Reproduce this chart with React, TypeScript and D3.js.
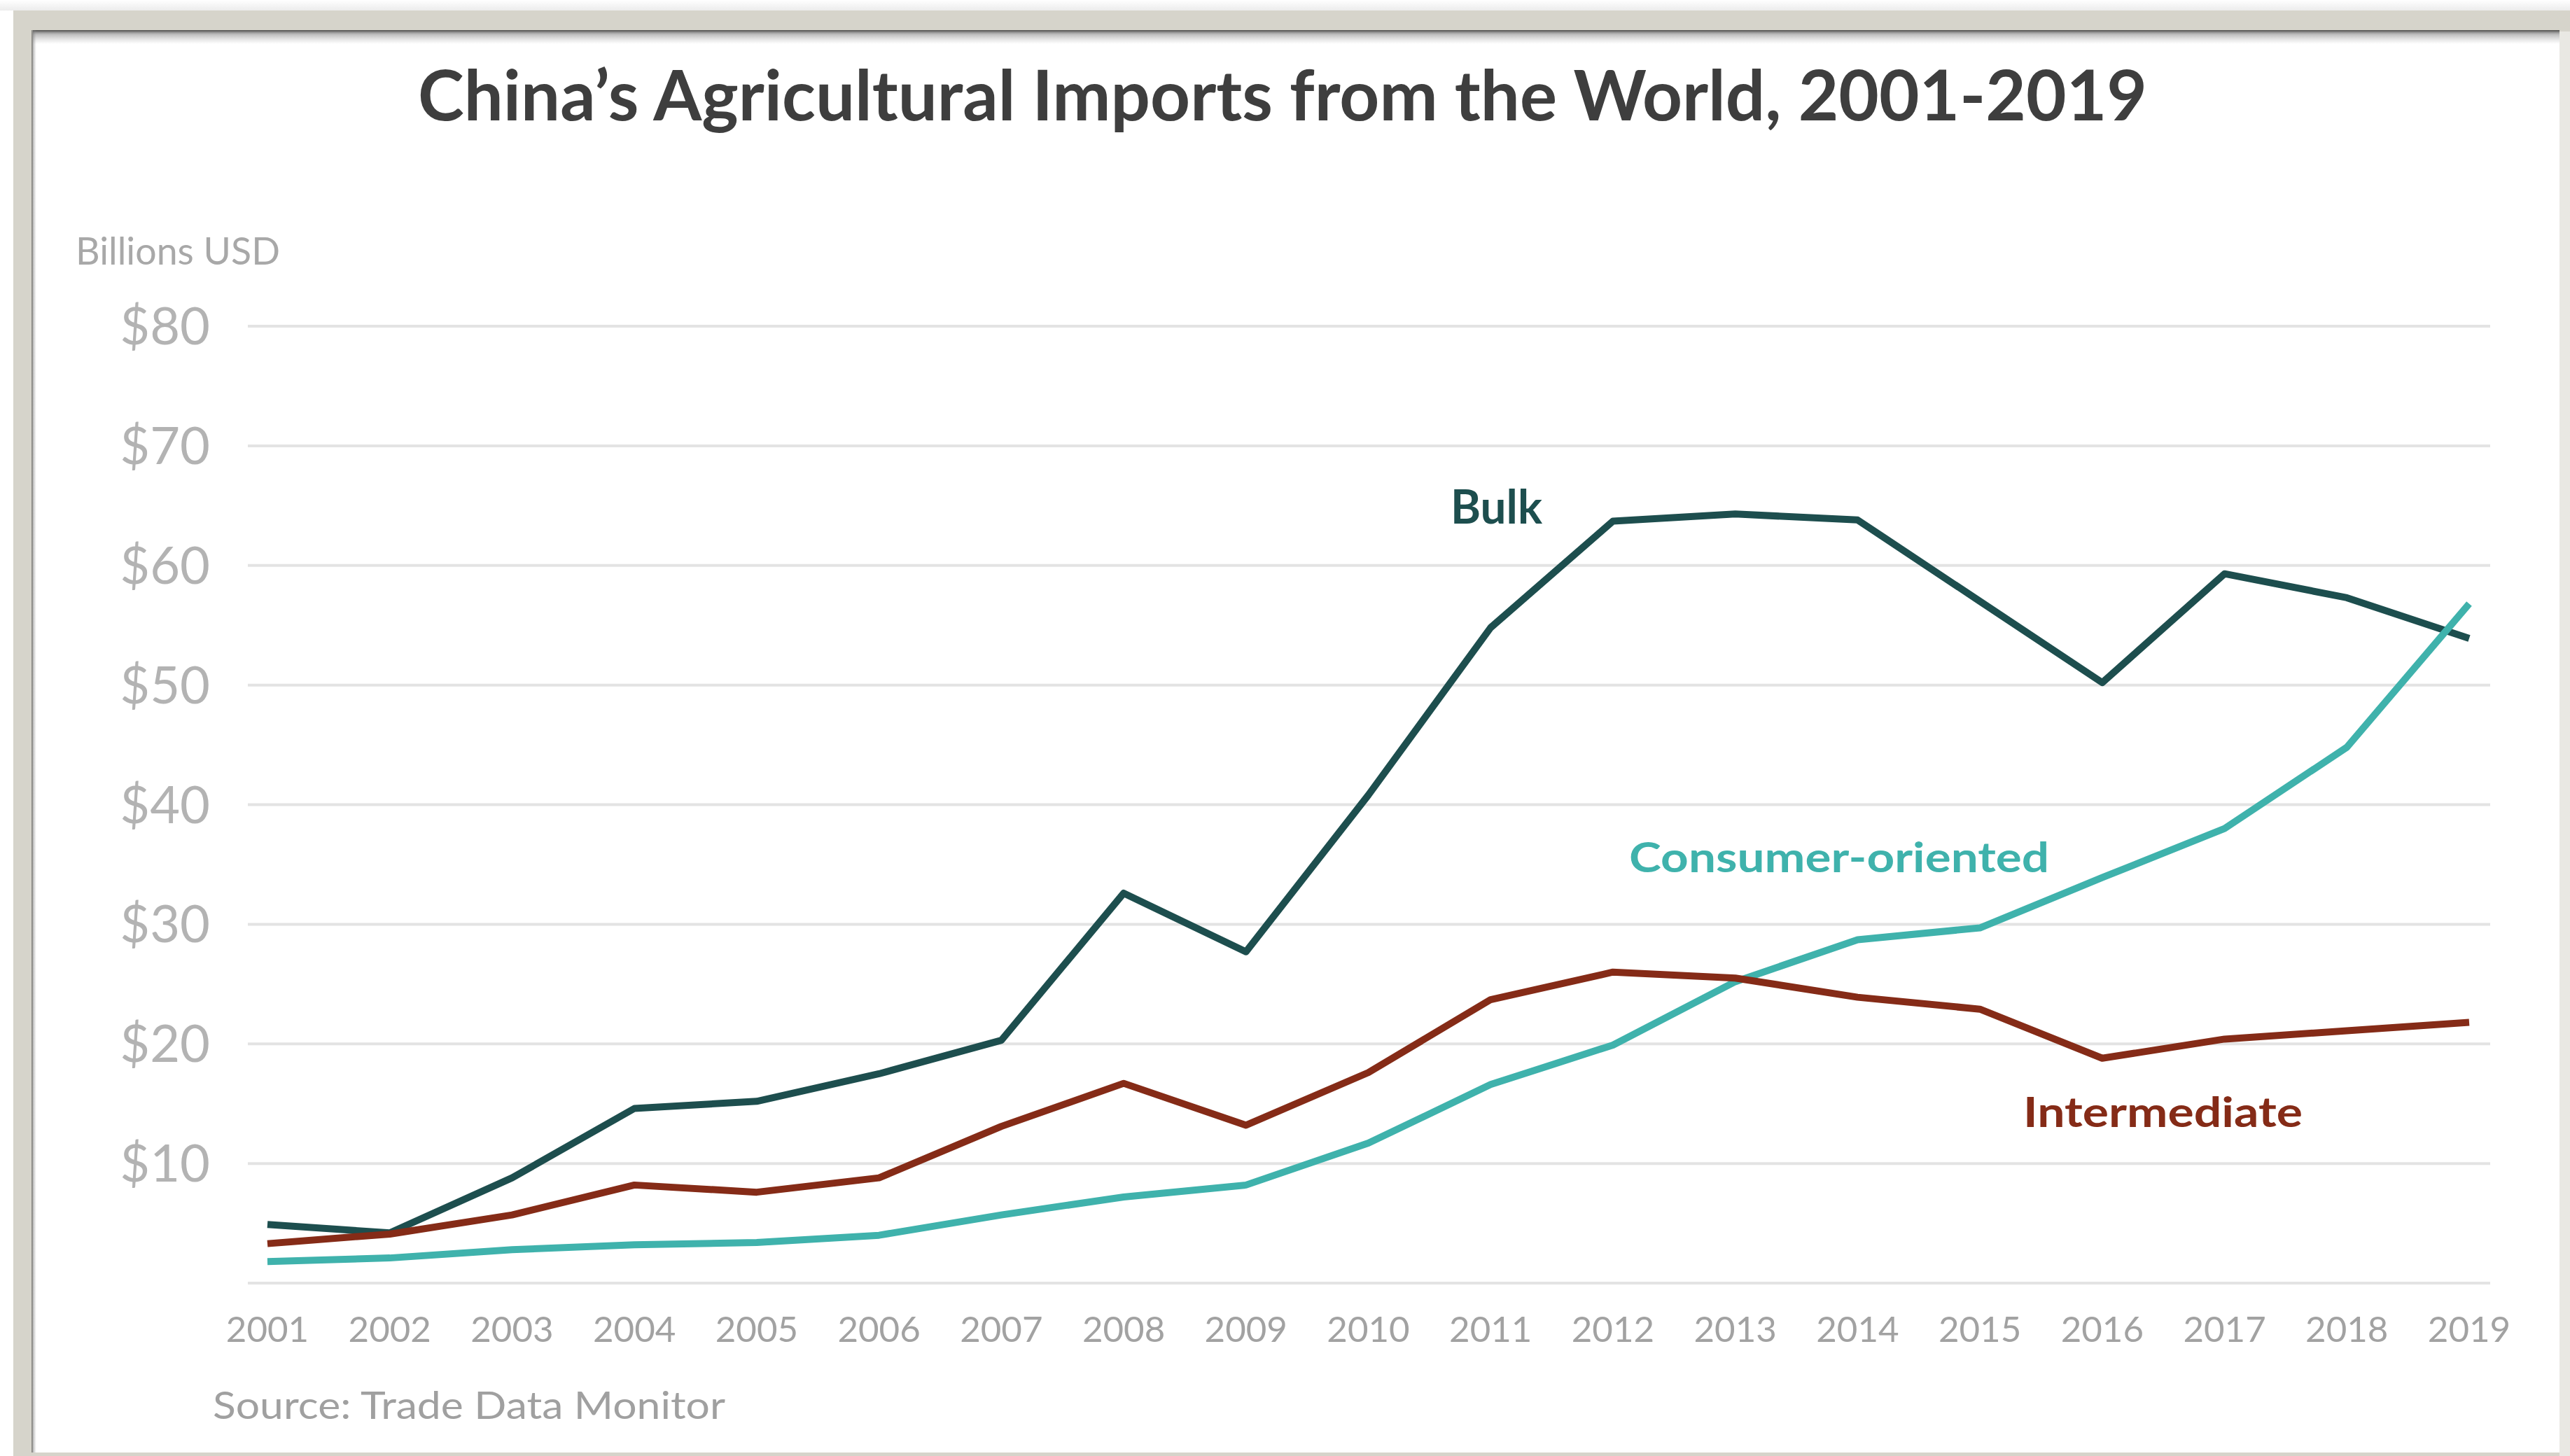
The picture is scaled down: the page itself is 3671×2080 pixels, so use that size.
import React from 'react';
import * as d3 from 'd3';

// ---------- data ----------
const years: number[] = [2001, 2002, 2003, 2004, 2005, 2006, 2007, 2008, 2009, 2010, 2011, 2012, 2013, 2014, 2015, 2016, 2017, 2018, 2019];
const bulk: number[] = [4.9, 4.2, 8.8, 14.6, 15.2, 17.5, 20.3, 32.6, 27.7, 40.8, 54.8, 63.7, 64.3, 63.8, 57.0, 50.2, 59.3, 57.3, 53.9];
const consumerOriented: number[] = [1.8, 2.1, 2.8, 3.2, 3.4, 4.0, 5.7, 7.2, 8.2, 11.7, 16.6, 19.9, 25.2, 28.7, 29.7, 33.9, 38.0, 44.8, 56.8];
const intermediate: number[] = [3.3, 4.1, 5.7, 8.2, 7.6, 8.8, 13.1, 16.7, 13.2, 17.6, 23.7, 26.0, 25.5, 23.9, 22.9, 18.8, 20.4, 21.1, 21.8];
const yTicks: number[] = [0, 10, 20, 30, 40, 50, 60, 70, 80];
const seriesNames: string[] = ['Bulk', 'Consumer-oriented', 'Intermediate'];

const title = 'China’s Agricultural Imports from the World, 2001-2019';
const unitLabel = 'Billions USD';
const sourceLabel = 'Source: Trade Data Monitor';

// ---------- layout ----------
const W = 3671;
const H = 2080;
const FONT = 'Lato, "Open Sans", sans-serif';

export default function App() {
  const x = d3.scaleLinear().domain([2001, 2019]).range([382, 3527]);
  const y = d3.scaleLinear().domain([0, 80]).range([1833, 466]);

  const line = d3
    .line<number>()
    .x((_, i) => x(years[i]))
    .y((d) => y(d))
    .curve(d3.curveLinear);

  const series = [
    { name: seriesNames[0], values: bulk, color: '#1d4e4e', lx: 2072, ly: 748, lw: 131, fs: 66 },
    { name: seriesNames[1], values: consumerOriented, color: '#3fb2ac', lx: 2327, ly: 1246, lw: 600, fs: 60 },
    { name: seriesNames[2], values: intermediate, color: '#852b17', lx: 2890, ly: 1610, lw: 399, fs: 60 },
  ];

  return (
    <svg
      width={W}
      height={H}
      viewBox={`0 0 ${W} ${H}`}
      style={{ position: 'absolute', left: 0, top: 0, display: 'block' }}
    >
      <defs>
        <linearGradient id="topShadow" x1="0" y1="0" x2="0" y2="1">
          <stop offset="0" stopColor="#3a3a3a" stopOpacity="0.85" />
          <stop offset="0.3" stopColor="#6a6a6a" stopOpacity="0.45" />
          <stop offset="1" stopColor="#9a9a9a" stopOpacity="0" />
        </linearGradient>
        <linearGradient id="leftShadow" x1="0" y1="0" x2="1" y2="0">
          <stop offset="0" stopColor="#555" stopOpacity="0.7" />
          <stop offset="1" stopColor="#999" stopOpacity="0" />
        </linearGradient>
        <linearGradient id="outerTop" x1="0" y1="0" x2="0" y2="1">
          <stop offset="0" stopColor="#ffffff" />
          <stop offset="1" stopColor="#ececec" />
        </linearGradient>
      </defs>

      {/* page background and frame */}
      <rect x={0} y={0} width={W} height={H} fill="#ffffff" />
      <rect x={0} y={0} width={W} height={15} fill="url(#outerTop)" />
      <rect x={19} y={15} width={W - 19} height={H - 15} fill="#d6d4cb" />
      <rect x={3656} y={45} width={15} height={H - 45} fill="#e9e8e3" />
      <rect x={47} y={45} width={3609} height={2030} fill="#ffffff" />
      <rect x={47} y={43} width={3609} height={20} fill="url(#topShadow)" />
      <rect x={45} y={43} width={7} height={2032} fill="url(#leftShadow)" />

      {/* title */}
      <text
        x={597}
        y={172}
        fontFamily={FONT}
        fontWeight={700}
        fontSize={100}
        fill="#3e3e3e"
        textLength={2470}
        lengthAdjust="spacingAndGlyphs"
      >
        {title}
      </text>

      {/* unit label */}
      <text
        x={108}
        y={378}
        fontFamily={FONT}
        fontSize={55}
        fill="#a8a8a8"
        textLength={292}
        lengthAdjust="spacingAndGlyphs"
      >
        {unitLabel}
      </text>

      {/* gridlines + y tick labels */}
      {yTicks.map((t) => (
        <g key={t}>
          <line x1={354} x2={3557} y1={y(t)} y2={y(t)} stroke="#e3e3e3" strokeWidth={4} />
          {t > 0 && (
            <text
              x={300}
              y={y(t) + 26}
              textAnchor="end"
              fontFamily={FONT}
              fontSize={74}
              fill="#b3b3b3"
            >
              {`$${t}`}
            </text>
          )}
        </g>
      ))}

      {/* x tick labels */}
      {years.map((yr) => (
        <text
          key={yr}
          x={x(yr)}
          y={1917}
          textAnchor="middle"
          fontFamily={FONT}
          fontSize={51}
          fill="#a2a2a2"
        >
          {yr}
        </text>
      ))}

      {/* series lines */}
      {series.map((s) => (
        <path
          key={s.name}
          d={line(s.values) || ''}
          fill="none"
          stroke={s.color}
          strokeWidth={10}
          strokeLinejoin="round"
          strokeLinecap="butt"
        />
      ))}

      {/* series labels */}
      {series.map((s) => (
        <text
          key={`lbl-${s.name}`}
          x={s.lx}
          y={s.ly}
          fontFamily={FONT}
          fontWeight={700}
          fontSize={s.fs}
          fill={s.color}
          textLength={s.lw}
          lengthAdjust="spacingAndGlyphs"
        >
          {s.name}
        </text>
      ))}

      {/* source */}
      <text
        x={304}
        y={2027}
        fontFamily={FONT}
        fontSize={55}
        fill="#a0a0a0"
        textLength={732}
        lengthAdjust="spacingAndGlyphs"
      >
        {sourceLabel}
      </text>
    </svg>
  );
}
